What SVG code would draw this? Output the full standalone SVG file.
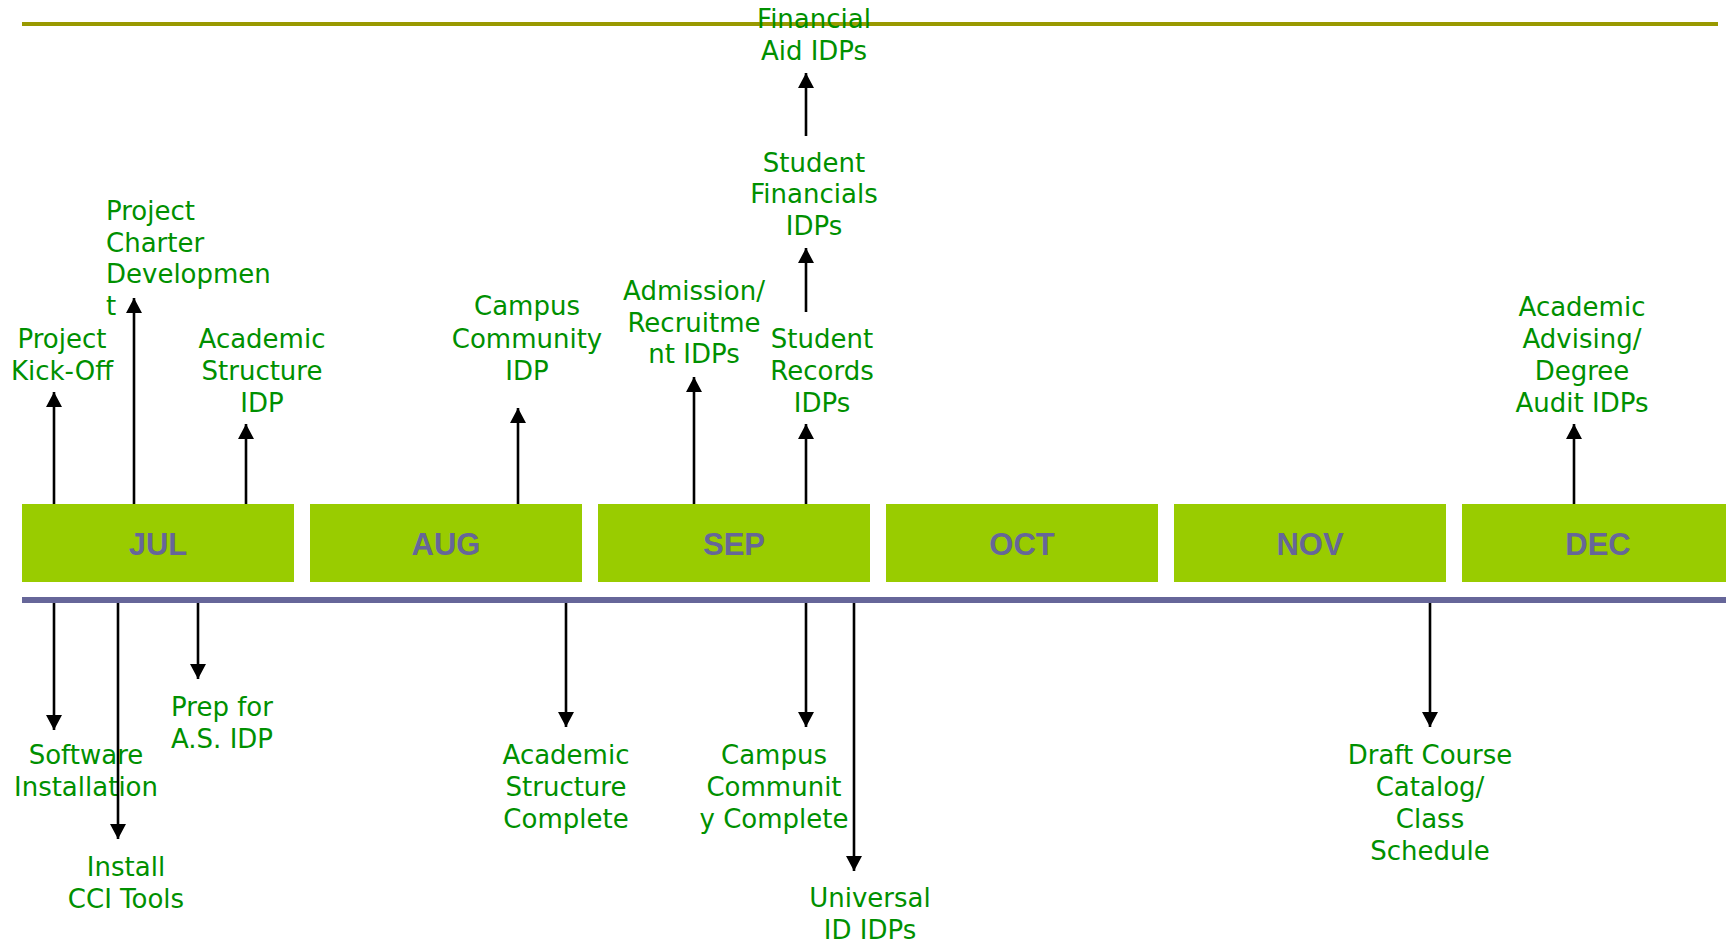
<svg xmlns="http://www.w3.org/2000/svg" width="1726" height="944" viewBox="0 0 1726 944">
<style>
.month rect{fill:#99cc00}
.month text{font-family:"Liberation Sans",Arial,sans-serif;font-weight:bold;font-size:31px;fill:#666699;text-anchor:middle}
.lbl text{font-family:"DejaVu Sans",Verdana,sans-serif;font-size:26px;fill:#009000;text-anchor:middle}
.lbl text.left{text-anchor:start}
.conn line{stroke:#000;stroke-width:2.6;fill:none;marker-end:url(#ah)}
</style>
<defs>
<marker id="ah" markerUnits="userSpaceOnUse" markerWidth="16" markerHeight="16" refX="15" refY="8" orient="auto">
<path d="M0,0 L15,8 L0,16 Z" fill="#000"/>
</marker>
</defs>
<rect width="1726" height="944" fill="#fff"/>
<g id="axes">
<line x1="22" y1="24" x2="1718" y2="24" stroke="#999900" stroke-width="4"/>
<line x1="22" y1="600" x2="1726" y2="600" stroke="#666699" stroke-width="6"/>
</g>
<g id="month-jul" class="month"><rect x="22" y="504" width="272" height="78"/><text x="158" y="555">JUL</text></g>
<g id="month-aug" class="month"><rect x="310" y="504" width="272" height="78"/><text x="446" y="555">AUG</text></g>
<g id="month-sep" class="month"><rect x="598" y="504" width="272" height="78"/><text x="734" y="555">SEP</text></g>
<g id="month-oct" class="month"><rect x="886" y="504" width="272" height="78"/><text x="1022" y="555">OCT</text></g>
<g id="month-nov" class="month"><rect x="1174" y="504" width="272" height="78"/><text x="1310" y="555">NOV</text></g>
<g id="month-dec" class="month"><rect x="1462" y="504" width="272" height="78"/><text x="1598" y="555">DEC</text></g>

<g id="lbl-kickoff" class="lbl"><text><tspan x="62" y="348">Project</tspan><tspan x="62" y="380">Kick-Off</tspan></text></g>
<g id="lbl-charter" class="lbl"><text class="left"><tspan x="106" y="220">Project</tspan><tspan x="106" y="252">Charter</tspan><tspan x="106" y="283">Developmen</tspan><tspan x="106" y="315">t</tspan></text></g>
<g id="lbl-as-idp" class="lbl"><text><tspan x="262" y="348">Academic</tspan><tspan x="262" y="380">Structure</tspan><tspan x="262" y="412">IDP</tspan></text></g>
<g id="lbl-cc-idp" class="lbl"><text><tspan x="527" y="315">Campus</tspan><tspan x="527" y="348">Community</tspan><tspan x="527" y="380">IDP</tspan></text></g>
<g id="lbl-finaid" class="lbl"><text><tspan x="814" y="28">Financial</tspan><tspan x="814" y="60">Aid IDPs</tspan></text></g>
<g id="lbl-studfin" class="lbl"><text><tspan x="814" y="172">Student</tspan><tspan x="814" y="203">Financials</tspan><tspan x="814" y="235">IDPs</tspan></text></g>
<g id="lbl-admission" class="lbl"><text><tspan x="694" y="300">Admission/</tspan><tspan x="694" y="332">Recruitme</tspan><tspan x="694" y="363">nt IDPs</tspan></text></g>
<g id="lbl-studrec" class="lbl"><text><tspan x="822" y="348">Student</tspan><tspan x="822" y="380">Records</tspan><tspan x="822" y="412">IDPs</tspan></text></g>
<g id="lbl-advising" class="lbl"><text><tspan x="1582" y="316">Academic</tspan><tspan x="1582" y="348">Advising/</tspan><tspan x="1582" y="380">Degree</tspan><tspan x="1582" y="412">Audit IDPs</tspan></text></g>

<g id="lbl-software" class="lbl"><text><tspan x="86" y="764">Software</tspan><tspan x="86" y="796">Installation</tspan></text></g>
<g id="lbl-cci" class="lbl"><text><tspan x="126" y="876">Install</tspan><tspan x="126" y="908">CCI Tools</tspan></text></g>
<g id="lbl-prep" class="lbl"><text><tspan x="222" y="716">Prep for</tspan><tspan x="222" y="748">A.S. IDP</tspan></text></g>
<g id="lbl-as-complete" class="lbl"><text><tspan x="566" y="764">Academic</tspan><tspan x="566" y="796">Structure</tspan><tspan x="566" y="828">Complete</tspan></text></g>
<g id="lbl-cc-complete" class="lbl"><text><tspan x="774" y="764">Campus</tspan><tspan x="774" y="796">Communit</tspan><tspan x="774" y="828">y Complete</tspan></text></g>
<g id="lbl-uid" class="lbl"><text><tspan x="870" y="907">Universal</tspan><tspan x="870" y="939">ID IDPs</tspan></text></g>
<g id="lbl-catalog" class="lbl"><text><tspan x="1430" y="764">Draft Course</tspan><tspan x="1430" y="796">Catalog/</tspan><tspan x="1430" y="828">Class</tspan><tspan x="1430" y="860">Schedule</tspan></text></g>

<g id="connectors" class="conn">
<line x1="54" y1="504" x2="54" y2="392"/>
<line x1="134" y1="504" x2="134" y2="298"/>
<line x1="246" y1="504" x2="246" y2="424"/>
<line x1="518" y1="504" x2="518" y2="408"/>
<line x1="694" y1="504" x2="694" y2="377"/>
<line x1="806" y1="504" x2="806" y2="424"/>
<line x1="806" y1="312" x2="806" y2="248"/>
<line x1="806" y1="136" x2="806" y2="73"/>
<line x1="1574" y1="504" x2="1574" y2="424"/>
<line x1="54" y1="603" x2="54" y2="730"/>
<line x1="118" y1="603" x2="118" y2="839"/>
<line x1="198" y1="603" x2="198" y2="679"/>
<line x1="566" y1="603" x2="566" y2="727"/>
<line x1="806" y1="603" x2="806" y2="727"/>
<line x1="854" y1="603" x2="854" y2="871"/>
<line x1="1430" y1="603" x2="1430" y2="727"/>
</g>
</svg>
